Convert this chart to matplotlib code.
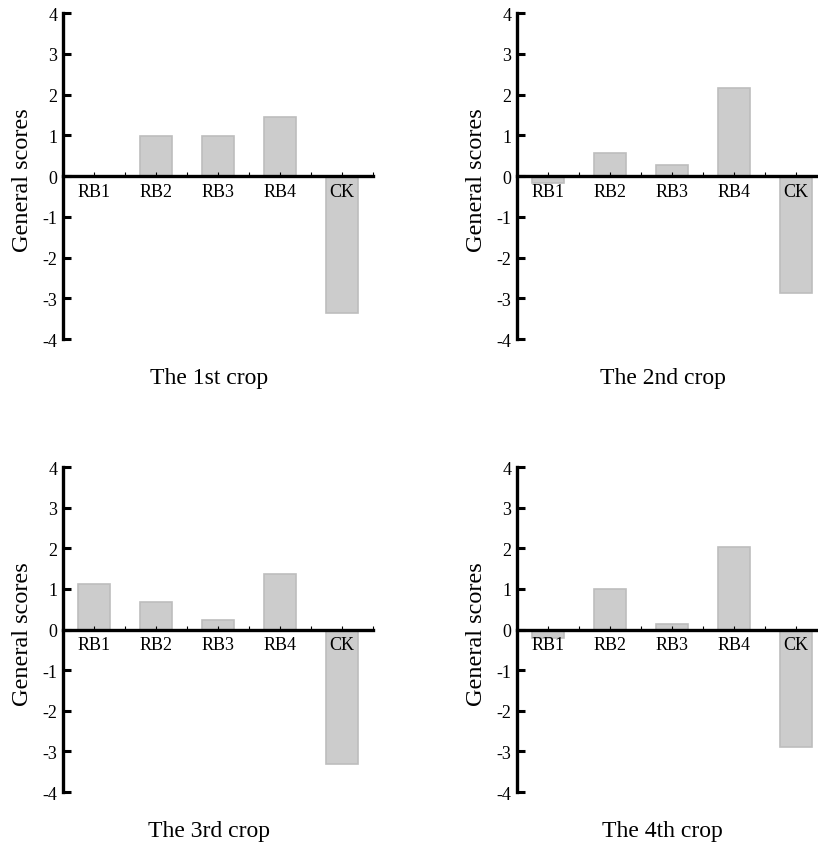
import matplotlib
matplotlib.use("Agg")
import matplotlib.pyplot as plt
import numpy as np

plt.rcParams['font.family'] = ['Liberation Serif', 'DejaVu Serif']
plt.rcParams['axes.unicode_minus'] = False

categories = ["RB1", "RB2", "RB3", "RB4", "CK"]
crop1 = [0.0, 0.97, 0.99, 1.45, -3.37]
crop2 = [-0.16, 0.57, 0.27, 2.16, -2.88]
crop3 = [1.11, 0.68, 0.24, 1.37, -3.30]
crop4 = [-0.21, 1.01, 0.13, 2.03, -2.89]
titles = ["The 1st crop", "The 2nd crop", "The 3rd crop", "The 4th crop"]
yticks = [-4, -3, -2, -1, 0, 1, 2, 3, 4]

fig = plt.figure(figsize=(8.18, 8.45), dpi=100)

# axes rectangles in figure fractions
boxes = [
    [0.077, 0.5976, 0.379, 0.3858],
    [0.632, 0.5976, 0.379, 0.3858],
    [0.077, 0.0615, 0.379, 0.3846],
    [0.632, 0.0615, 0.379, 0.3846],
]

x = np.arange(len(categories))
for vals, title, box in zip([crop1, crop2, crop3, crop4], titles, boxes):
    ax = fig.add_axes(box)
    ax.bar(x, vals, width=0.53, color="#cccccc", edgecolor="#bdbdbd", linewidth=1.2, zorder=1)
    ax.set_xlim(-0.5, 4.5)
    ax.set_ylim(-4, 4)

    ax.spines['top'].set_visible(False)
    ax.spines['right'].set_visible(False)
    ax.spines['bottom'].set_position(('data', 0))
    ax.spines['left'].set_linewidth(2.4)
    ax.spines['bottom'].set_linewidth(2.4)
    ax.spines['bottom'].set_zorder(3)

    ax.set_yticks(yticks)
    ax.set_yticklabels([str(t) for t in yticks])
    ax.tick_params(axis='y', direction='in', length=6, width=2.2, labelsize=13, pad=4)

    ax.set_xticks(x)
    ax.set_xticklabels(categories)
    ax.set_xticks(np.arange(-0.5, 5.0, 1.0), minor=True)
    ax.tick_params(axis='x', which='major', direction='in', length=3, width=0.8, labelsize=13, pad=5)
    ax.tick_params(axis='x', which='minor', direction='in', length=3, width=0.8)

    ax.text(-0.132, 0.49, "General scores", transform=ax.transAxes, rotation=90,
            ha='center', va='center', fontsize=17.5)
    ax.text(0.47, -0.117, title, transform=ax.transAxes, ha='center', va='center', fontsize=17)

fig.savefig("out.png", dpi=100)
